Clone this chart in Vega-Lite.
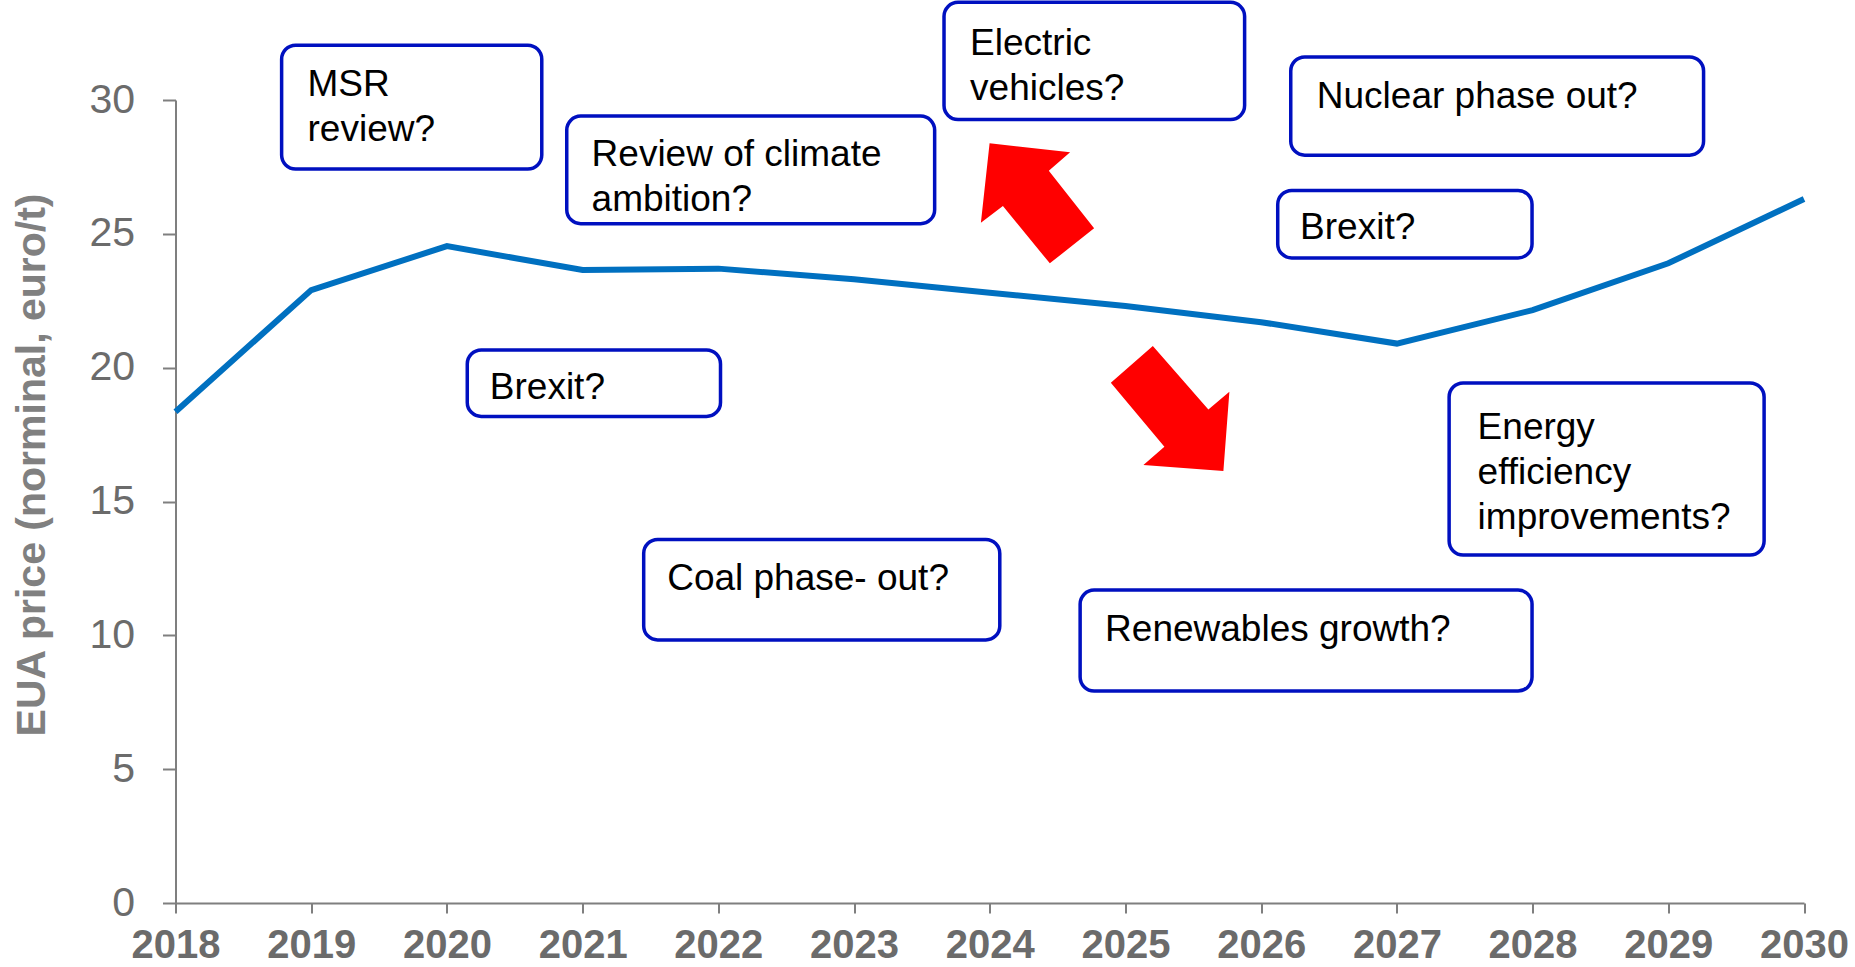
{
  "$schema": "https://vega.github.io/schema/vega-lite/v6.json",
  "width": 1628.5,
  "height": 803,
  "autosize": {"type": "none"},
  "padding": {"left": 175.5, "top": 100, "right": 51, "bottom": 64},
  "background": "white",
  "config": {"view": {"stroke": null}, "font": "Liberation Sans"},
  "datasets": {
    "price": [
      {"year": 2018, "value": 18.35},
      {"year": 2019, "value": 22.9},
      {"year": 2020, "value": 24.54},
      {"year": 2021, "value": 23.65},
      {"year": 2022, "value": 23.7},
      {"year": 2023, "value": 23.3},
      {"year": 2024, "value": 22.8},
      {"year": 2025, "value": 22.3},
      {"year": 2026, "value": 21.7},
      {"year": 2027, "value": 20.9},
      {"year": 2028, "value": 22.15},
      {"year": 2029, "value": 23.9},
      {"year": 2030, "value": 26.3}
    ],
    "notes": [
      {"label": "MSR\nreview?", "x1": 2018.782, "x2": 2020.699, "y1": 27.42, "y2": 32.05, "tx": 2018.973, "ty": 30.56},
      {"label": "Review of climate\nambition?", "x1": 2020.883, "x2": 2023.594, "y1": 25.38, "y2": 29.40, "tx": 2021.066, "ty": 27.95},
      {"label": "Electric\nvehicles?", "x1": 2023.663, "x2": 2025.878, "y1": 29.27, "y2": 33.65, "tx": 2023.855, "ty": 32.11},
      {"label": "Nuclear phase out?", "x1": 2026.218, "x2": 2029.260, "y1": 27.94, "y2": 31.61, "tx": 2026.410, "ty": 30.12},
      {"label": "Brexit?", "x1": 2026.122, "x2": 2027.996, "y1": 24.10, "y2": 26.62, "tx": 2026.287, "ty": 25.21},
      {"label": "Brexit?", "x1": 2020.150, "x2": 2022.016, "y1": 18.18, "y2": 20.66, "tx": 2020.316, "ty": 19.25},
      {"label": "Coal phase- out?", "x1": 2021.450, "x2": 2024.074, "y1": 9.83, "y2": 13.58, "tx": 2021.623, "ty": 12.09},
      {"label": "Renewables growth?", "x1": 2024.666, "x2": 2027.996, "y1": 7.92, "y2": 11.69, "tx": 2024.850, "ty": 10.19},
      {"label": "Energy\nefficiency\nimprovements?", "x1": 2027.385, "x2": 2029.706, "y1": 13.00, "y2": 19.43, "tx": 2027.595, "ty": 17.74}
    ],
    "arrows": [
      {"dir": "up", "year": 2024.349, "value": 26.15},
      {"dir": "down", "year": 2025.329, "value": 18.49}
    ]
  },
  "layer": [
    {
      "data": {"name": "price"},
      "mark": {"type": "line", "color": "#0070C0", "strokeWidth": 6},
      "encoding": {
        "x": {
          "field": "year", "type": "quantitative",
          "scale": {"domain": [2018, 2030], "nice": false, "zero": false},
          "axis": {
            "title": null,
            "values": [2018, 2019, 2020, 2021, 2022, 2023, 2024, 2025, 2026, 2027, 2028, 2029, 2030],
            "format": "d",
            "grid": false,
            "domainColor": "#7f7f7f", "domainWidth": 2,
            "tickColor": "#7f7f7f", "tickWidth": 2, "tickSize": 10,
            "labelFont": "Liberation Sans", "labelFontSize": 40, "labelFontWeight": "bold",
            "labelColor": "#6b6b6b", "labelPadding": 12, "labelFlush": false, "labelOverlap": false
          }
        },
        "y": {
          "field": "value", "type": "quantitative",
          "scale": {"domain": [0, 30], "nice": false},
          "axis": {
            "title": "EUA price (norminal, euro/t)",
            "values": [0, 5, 10, 15, 20, 25, 30],
            "grid": false,
            "domainColor": "#7f7f7f", "domainWidth": 2,
            "tickColor": "#7f7f7f", "tickWidth": 2, "tickSize": 13,
            "labelFont": "Liberation Sans", "labelFontSize": 41,
            "labelColor": "#6b6b6b", "labelPadding": 28, "labelFlush": false,
            "titleFont": "Liberation Sans", "titleFontSize": 41, "titleFontWeight": "bold",
            "titleColor": "#808080", "titleX": -122, "titleY": 364.5
          }
        }
      }
    },
    {
      "data": {"name": "notes"},
      "mark": {"type": "rect", "fill": "white", "stroke": "#0010C0", "strokeWidth": 3.5, "cornerRadius": 14},
      "encoding": {
        "x": {"field": "x1", "type": "quantitative", "scale": {"domain": [2018, 2030], "nice": false, "zero": false}},
        "x2": {"field": "x2"},
        "y": {"field": "y1", "type": "quantitative", "scale": {"domain": [0, 30], "nice": false}},
        "y2": {"field": "y2"}
      }
    },
    {
      "data": {"name": "notes"},
      "mark": {"type": "text", "align": "left", "baseline": "middle", "font": "Liberation Sans", "fontSize": 37, "color": "black", "lineBreak": "\n", "lineHeight": 45},
      "encoding": {
        "x": {"field": "tx", "type": "quantitative", "scale": {"domain": [2018, 2030], "nice": false, "zero": false}},
        "y": {"field": "ty", "type": "quantitative", "scale": {"domain": [0, 30], "nice": false}},
        "text": {"field": "label"}
      }
    },
    {
      "data": {"name": "arrows"},
      "transform": [{"filter": "datum.dir === 'up'"}],
      "mark": {"type": "point", "filled": true, "fill": "#FF0000", "stroke": null, "opacity": 1, "size": 14400,
        "shape": "M-0.792,-0.995L0.55,-0.845L0.195,-0.538L0.95,0.422L0.212,1.005L-0.57,0.05L-0.937,0.328Z"},
      "encoding": {
        "x": {"field": "year", "type": "quantitative", "scale": {"domain": [2018, 2030], "nice": false, "zero": false}},
        "y": {"field": "value", "type": "quantitative", "scale": {"domain": [0, 30], "nice": false}}
      }
    },
    {
      "data": {"name": "arrows"},
      "transform": [{"filter": "datum.dir === 'down'"}],
      "mark": {"type": "point", "filled": true, "fill": "#FF0000", "stroke": null, "opacity": 1, "size": 14400,
        "shape": "M-0.288,-1.033L0.638,0.022L0.988,-0.272L0.888,1.05L-0.445,0.95L-0.095,0.645L-0.988,-0.422Z"},
      "encoding": {
        "x": {"field": "year", "type": "quantitative", "scale": {"domain": [2018, 2030], "nice": false, "zero": false}},
        "y": {"field": "value", "type": "quantitative", "scale": {"domain": [0, 30], "nice": false}}
      }
    }
  ]
}
